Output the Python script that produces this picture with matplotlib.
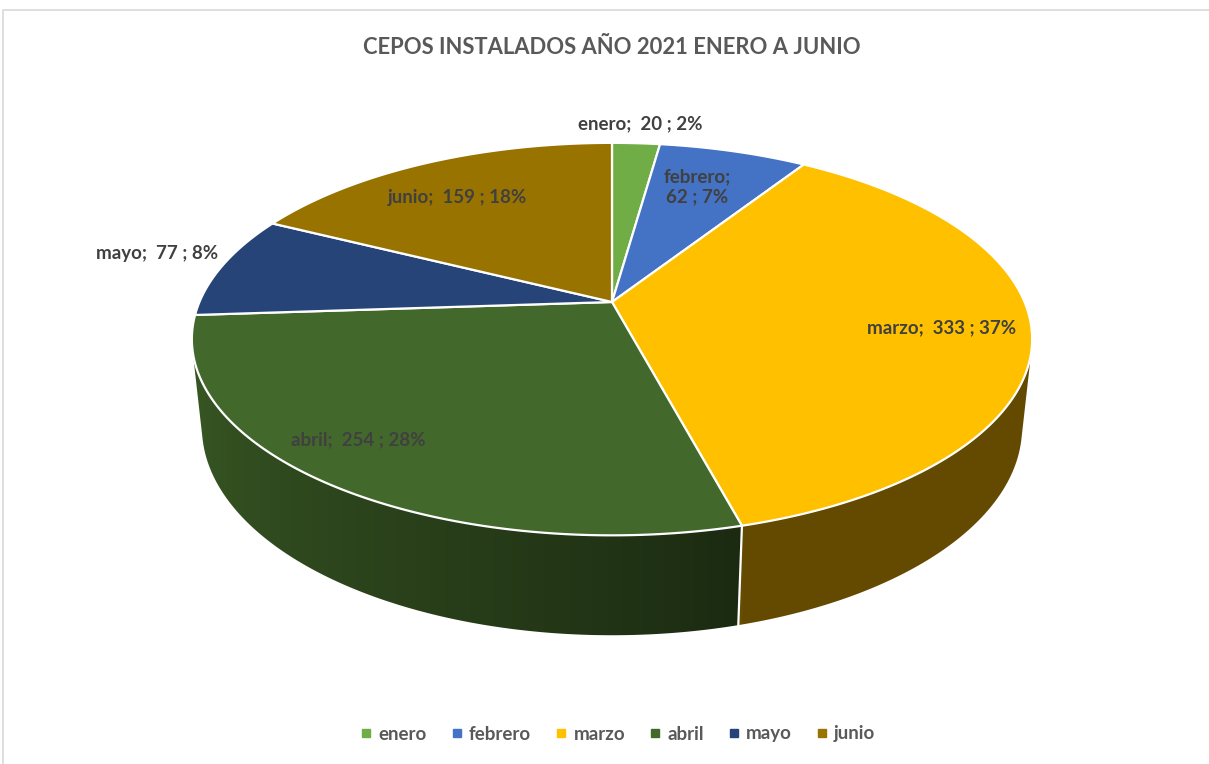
import numpy as np
import matplotlib.pyplot as plt
from matplotlib.patches import Polygon
from matplotlib.lines import Line2D
from matplotlib.colors import to_rgb

plt.rcParams['font.family'] = ['Lato', 'DejaVu Sans']

months = ['enero', 'febrero', 'marzo', 'abril', 'mayo', 'junio']
counts = [20, 62, 333, 254, 77, 159]
pct_labels = ['2%', '7%', '37%', '28%', '8%', '18%']
colors = ['#70AD47', '#4472C4', '#FFC000', '#43682B', '#264478', '#997300']
title = 'CEPOS INSTALADOS AÑO 2021 ENERO A JUNIO'

# label anchors (pixels) for the data labels
label_pos = [(640, 124), (697, 187), (942, 328), (358, 440), (157, 253), (457, 198)]

# simple perspective camera for the 3d pie
CX, CY = 612, 302
TILT = np.radians(27.3)
DIST = 4.70
FOCAL = 1939
DEPTH = 0.2425


def project(theta, r, z):
    t = np.radians(theta)
    x, y = r * np.sin(t), r * np.cos(t)
    c, s = np.cos(TILT), np.sin(TILT)
    d = DIST + y * c - z * s
    return CX + FOCAL * x / d, CY - FOCAL * (y * s + z * c) / d


def side_shade(theta):
    if theta <= 165:
        return 0.39
    return 0.40 + 0.45 * min(1, (theta - 165) / 91) ** 0.85


fig = plt.figure(figsize=(12.09, 7.64), dpi=100)
ax = fig.add_axes([0, 0, 1, 1])

ax.plot([3, 3, 1209], [764, 10, 10], color='#d9d9d9', lw=1.2)

total = sum(counts)
edges = np.concatenate([[0], np.cumsum(counts)]) / total * 360
vis_lo = np.degrees(np.arccos(-1 / (DIST * np.cos(TILT))))
vis_hi = 360 - vis_lo

# sides, shaded with a clipped gradient image
for i, col in enumerate(colors):
    a0, a1 = max(edges[i], vis_lo), min(edges[i + 1], vis_hi)
    if a1 <= a0:
        continue
    ts = np.linspace(a0, a1, 300)
    top = [project(t, 1, 0) for t in ts]
    bot = [project(t, 1, -DEPTH) for t in ts[::-1]]
    poly = Polygon(top + bot, closed=True, facecolor='none', edgecolor='none')
    ax.add_patch(poly)
    xs = np.array([p[0] for p in top + bot])
    ys = np.array([p[1] for p in top + bot])
    x0, x1 = xs.min() - 2, xs.max() + 2
    xgrid = np.linspace(x0, x1, 400)
    xtop = np.array([p[0] for p in top])
    tgrid = np.interp(xgrid, xtop[::-1], ts[::-1])
    base = np.array(to_rgb(col))
    row = np.array([base * side_shade(t) for t in tgrid])
    img = np.repeat(row[None, :, :], 2, axis=0)
    im = ax.imshow(img, extent=(x0, x1, ys.max() + 2, ys.min() - 2),
                   aspect='auto', interpolation='bilinear', zorder=1)
    im.set_clip_path(poly)

for e in edges[1:-1]:
    if vis_lo < e < vis_hi:
        p0, p1 = project(e, 1, 0), project(e, 1, -DEPTH)
        ax.plot([p0[0], p1[0]], [p0[1], p1[1]], color='white', lw=1.6, zorder=2)

# top faces
for i, col in enumerate(colors):
    ts = np.linspace(edges[i], edges[i + 1], max(3, int(edges[i + 1] - edges[i]) * 2))
    pts = [project(0, 0, 0)] + [project(t, 1, 0) for t in ts]
    ax.add_patch(Polygon(pts, closed=True, facecolor=col, edgecolor='white',
                         lw=1.6, joinstyle='round', zorder=3))

# data labels
for i, name in enumerate(months):
    if name == 'febrero':
        txt = f'{name};\n{counts[i]} ; {pct_labels[i]}'
    else:
        txt = f'{name};  {counts[i]} ; {pct_labels[i]}'
    ax.text(*label_pos[i], txt, ha='center', va='center', fontsize=13.5,
            fontweight='bold', color='#404040', linespacing=1.2, zorder=5)

ax.text(612, 48, title, ha='center', va='center', fontsize=15.8,
        fontweight='bold', color='#595959')

handles = [Line2D([], [], ls='none', marker='s', markersize=6, color=c) for c in colors]
leg = ax.legend(handles, months, loc='center', bbox_to_anchor=(618 / 1209, 1 - 734 / 764),
                ncol=6, frameon=False, handlelength=0.6, handletextpad=0.35,
                columnspacing=1.3, prop={'weight': 'bold', 'size': 13.5})
for t in leg.get_texts():
    t.set_color('#595959')

ax.set_xlim(0, 1209)
ax.set_ylim(764, 0)
ax.axis('off')

fig.savefig('out.png', dpi=100)
